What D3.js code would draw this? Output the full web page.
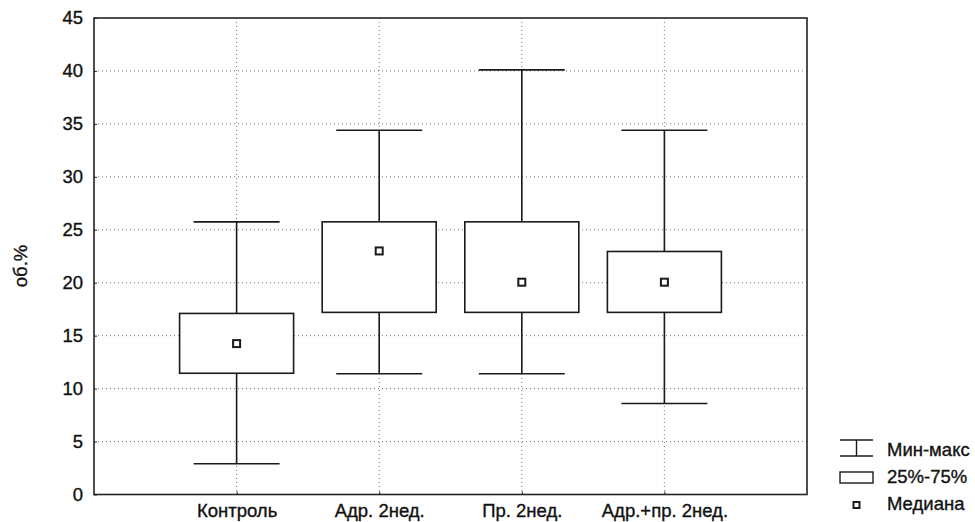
<!DOCTYPE html>
<html lang="ru">
<head>
<meta charset="UTF-8">
<title>Box plot</title>
<script src="https://cdn.jsdelivr.net/npm/d3@7"></script>
<style>
    body { margin: 0; background: #fff; }
    svg { font-family: "Liberation Sans", Arial, sans-serif; }
    svg text { stroke: #111; stroke-width: 0.35px; }
</style>
</head>
<body>
<svg id="chart" width="975" height="522"></svg>
<script>
    // data
    const groups = ["Контроль", "Адр. 2нед.", "Пр. 2нед.", "Адр.+пр. 2нед."];
    const minVals = [2.9, 11.4, 11.4, 8.6];
    const q1Vals = [11.45, 17.2, 17.2, 17.2];
    const medVals = [14.25, 23.0, 20.05, 20.05];
    const q3Vals = [17.1, 25.75, 25.75, 22.95];
    const maxVals = [25.75, 34.4, 40.1, 34.4];
    const yTicks = [0, 5, 10, 15, 20, 25, 30, 35, 40, 45];
    const legendLabels = ["Мин-макс", "25%-75%", "Медиана"];

    const margin = { top: 18, right: 168, bottom: 27.5, left: 94 };
    const W = 975, H = 522;
    const width = W - margin.left - margin.right;
    const height = H - margin.top - margin.bottom;
    const fs = "18.5px";

    const svg = d3.select("#chart");
    const g = svg.append("g").attr("transform", `translate(${margin.left},${margin.top})`);

    const x = d3.scaleLinear().domain([0, groups.length + 1]).range([0, width]);
    const y = d3.scaleLinear().domain([0, 45]).range([height, 0]);

    const data = groups.map((name, i) => ({
        name, pos: i + 1,
        min: minVals[i], q1: q1Vals[i], med: medVals[i], q3: q3Vals[i], max: maxVals[i]
    }));

    // grid
    g.append("g")
        .selectAll("line")
        .data(yTicks.filter(t => t > 0 && t < 45))
        .join("line")
        .attr("x1", 0).attr("x2", width)
        .attr("y1", d => y(d)).attr("y2", d => y(d))
        .attr("stroke", "#777").attr("stroke-width", 1)
        .attr("stroke-dasharray", "1,3");

    g.append("g")
        .selectAll("line")
        .data(data)
        .join("line")
        .attr("x1", d => x(d.pos)).attr("x2", d => x(d.pos))
        .attr("y1", 0).attr("y2", height)
        .attr("stroke", "#777").attr("stroke-width", 1)
        .attr("stroke-dasharray", "1,3");

    // axes
    const yAxis = g.append("g")
        .call(d3.axisLeft(y).tickValues(yTicks).tickSize(-3).tickPadding(11));
    yAxis.select(".domain").remove();
    yAxis.selectAll("text").style("font-size", fs).attr("fill", "#111");
    yAxis.selectAll("line").attr("stroke", "#222");

    const xAxis = g.append("g")
        .attr("transform", `translate(0,${height})`)
        .call(d3.axisBottom(x).tickValues(data.map(d => d.pos))
            .tickFormat(v => groups[v - 1]).tickSize(-3).tickPadding(9));
    xAxis.select(".domain").remove();
    xAxis.selectAll("text").style("font-size", fs).attr("fill", "#111");
    xAxis.selectAll("line").attr("stroke", "#222");

    // frame
    g.append("rect")
        .attr("width", width).attr("height", height)
        .attr("fill", "none").attr("stroke", "#222").attr("stroke-width", 1.6);

    const boxW = 114, capW = 86, medS = 7;
    const ink = "#1a1a1a";

    const box = g.append("g").selectAll("g").data(data).join("g");

    box.append("line")
        .attr("x1", d => x(d.pos)).attr("x2", d => x(d.pos))
        .attr("y1", d => y(d.max)).attr("y2", d => y(d.min))
        .attr("stroke", ink).attr("stroke-width", 1.6);

    box.selectAll("line.cap")
        .data(d => [d.min, d.max].map(v => ({ pos: d.pos, v })))
        .join("line")
        .attr("class", "cap")
        .attr("x1", d => x(d.pos) - capW / 2).attr("x2", d => x(d.pos) + capW / 2)
        .attr("y1", d => y(d.v)).attr("y2", d => y(d.v))
        .attr("stroke", ink).attr("stroke-width", 1.6);

    box.append("rect")
        .attr("x", d => x(d.pos) - boxW / 2)
        .attr("y", d => y(d.q3))
        .attr("width", boxW)
        .attr("height", d => y(d.q1) - y(d.q3))
        .attr("fill", "#fff").attr("stroke", ink).attr("stroke-width", 1.6);

    box.append("rect")
        .attr("x", d => x(d.pos) - medS / 2)
        .attr("y", d => y(d.med) - medS / 2)
        .attr("width", medS).attr("height", medS)
        .attr("fill", "#fff").attr("stroke", ink).attr("stroke-width", 2);

    // y title
    svg.append("text")
        .attr("transform", `translate(27,266) rotate(-90)`)
        .attr("text-anchor", "middle")
        .style("font-size", fs)
        .attr("fill", "#111")
        .text("об.%");

    // legend
    const lg = svg.append("g").attr("transform", "translate(840,448)");
    const sym = lg.append("g");
    sym.append("line").attr("x1", 0).attr("x2", 33).attr("y1", -8).attr("y2", -8);
    sym.append("line").attr("x1", 0).attr("x2", 33).attr("y1", 8).attr("y2", 8);
    sym.append("line").attr("x1", 16.5).attr("x2", 16.5).attr("y1", -8).attr("y2", 8);
    sym.selectAll("line").attr("stroke", ink).attr("stroke-width", 1.4);

    lg.append("rect")
        .attr("x", 0).attr("y", 24).attr("width", 33).attr("height", 11)
        .attr("fill", "#fff").attr("stroke", ink).attr("stroke-width", 1.4);

    lg.append("rect")
        .attr("x", 13.5).attr("y", 54).attr("width", 6).attr("height", 6)
        .attr("fill", "#fff").attr("stroke", ink).attr("stroke-width", 2);

    lg.selectAll("text.lab")
        .data(legendLabels)
        .join("text")
        .attr("class", "lab")
        .attr("x", 47)
        .attr("y", (d, i) => 7.5 + i * 27)
        .style("font-size", fs)
        .attr("fill", "#111")
        .text(d => d);
</script>
</body>
</html>
